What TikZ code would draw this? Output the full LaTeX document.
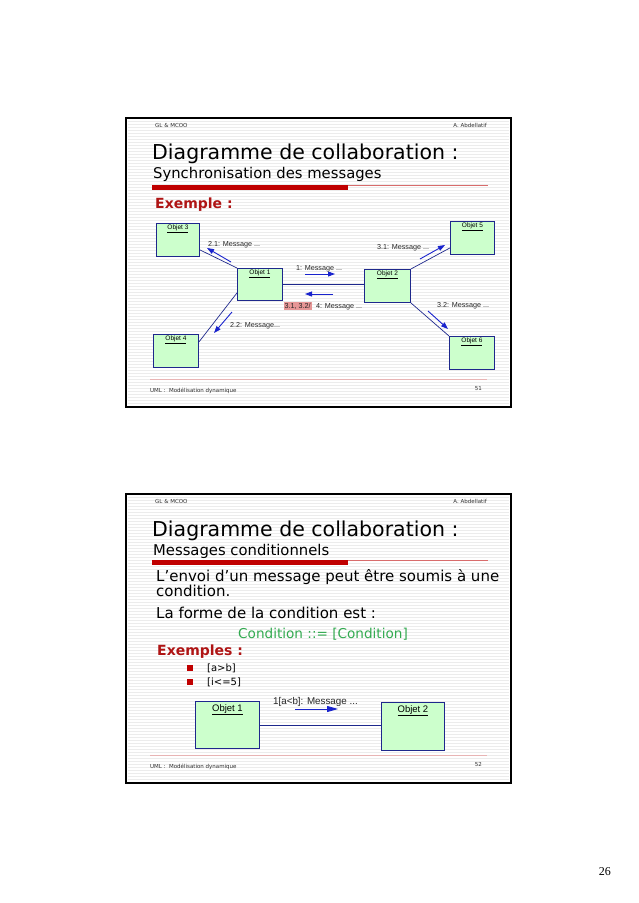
\documentclass[tikz,border=0pt]{standalone}
\usepackage{fontspec}
\setmainfont{DejaVu Sans}
\newfontfamily\arialfont{Liberation Sans}
\newfontfamily\timesfont{Liberation Serif}
\usetikzlibrary{arrows.meta,calc}

\definecolor{boxgreen}{RGB}{204,255,204}
\definecolor{linkblue}{RGB}{30,40,140}
\definecolor{msgblue}{RGB}{25,35,205}
\definecolor{barred}{RGB}{192,0,0}
\definecolor{darkred}{RGB}{175,20,20}
\definecolor{condgreen}{RGB}{50,170,80}
\definecolor{stripe}{RGB}{236,236,236}
\definecolor{footpink}{RGB}{232,180,180}
\definecolor{hilite}{RGB}{230,150,150}

\tikzset{
  objbox/.style={draw=linkblue, fill=boxgreen, line width=0.9pt, anchor=north west, inner sep=0pt},
  objlbl/.style={font=\arialfont\fontsize{6.5}{7}\selectfont, anchor=north, inner sep=2pt},
  biglbl/.style={font=\arialfont\fontsize{9.5}{11}\selectfont, anchor=north, inner sep=3pt},
  link/.style={draw=linkblue, line width=0.7pt},
  msg/.style={draw=msgblue, line width=0.9pt, -{Triangle[length=7pt,width=5pt]}},
  msglbl/.style={font=\arialfont\fontsize{7.2}{8}\selectfont, text=black!85, inner sep=0pt, anchor=base west},
  small/.style={font=\fontsize{5.5}{6}\selectfont, text=black!80, inner sep=0pt, anchor=base west},
  title/.style={font=\fontsize{20.5}{22}\selectfont, inner sep=0pt, anchor=base west},
  subtitle/.style={font=\fontsize{14.8}{16}\selectfont, inner sep=0pt, anchor=base west},
  body/.style={font=\fontsize{15}{16}\selectfont, inner sep=0pt, anchor=base west},
  head/.style={font=\bfseries\fontsize{14}{15}\selectfont, text=darkred, inner sep=0pt, anchor=base west},
}

\begin{document}
\begin{tikzpicture}[x=1pt,y=-1pt]
  \useasboundingbox (0,0) rectangle (638,903);
  \fill[white] (0,0) rectangle (638,903);

  % slide 51
  \foreach \y in {121,124,...,405} {
    \draw[stripe, line width=0.9pt] (128,\y) -- (509,\y);
  }
  \draw[line width=1.5pt] (126,118) rectangle (511,407);
  \node[small] (hdA) at (155,127) {GL \& MCOO};
  \node[small, anchor=base east] (auA) at (487,127) {A.\ Abdellatif};
  \node[title] (tiA) at (152,159) {Diagramme de collaboration :};
  \node[subtitle] (stA) at (153,178) {Synchronisation des messages};
  \draw[footpink!60!barred, line width=0.7pt] (152,185.5) -- (488,185.5);
  \fill[barred] (152,184.5) rectangle (348,189.5);
  \node[head] (exA) at (155,208) {Exemple :};

  \node[objbox, minimum width=43, minimum height=33] (o3) at (156,223) {};
  \node[objlbl] (o3l) at (o3.north) {\underline{Objet 3}};
  \node[objbox, minimum width=45, minimum height=32] (o1) at (237,268) {};
  \node[objlbl] (o1l) at (o1.north) {\underline{Objet 1}};
  \node[objbox, minimum width=46, minimum height=33] (o2) at (364,269) {};
  \node[objlbl] (o2l) at (o2.north) {\underline{Objet 2}};
  \node[objbox, minimum width=44, minimum height=33] (o5) at (450,221) {};
  \node[objlbl] (o5l) at (o5.north) {\underline{Objet 5}};
  \node[objbox, minimum width=45, minimum height=33] (o4) at (153,334) {};
  \node[objlbl] (o4l) at (o4.north) {\underline{Objet 4}};
  \node[objbox, minimum width=45, minimum height=33] (o6) at (449,336) {};
  \node[objlbl] (o6l) at (o6.north) {\underline{Objet 6}};

  \draw[link] (o1.east) -- (o1.east -| o2.west);
  \draw[link] (o1.north west) -- ($(o3.south east)+(0,-7)$);
  \draw[link] ($(o1.south west)+(0,-8)$) -- ($(o4.north east)+(0,8)$);
  \draw[link] (o2.north east) -- ($(o5.south west)+(0,-7)$);
  \draw[link] (o2.south east) -- (o6.north west);

  \coordinate (m1s) at (305,274);  \coordinate (m1e) at (335,274);
  \coordinate (m4s) at (333,294);  \coordinate (m4e) at (305,294);
  \coordinate (m21s) at (231,262); \coordinate (m21e) at (207,248);
  \coordinate (m31s) at (420,259); \coordinate (m31e) at (445,245);
  \coordinate (m22s) at (232,312); \coordinate (m22e) at (214,333);
  \coordinate (m32s) at (428,311); \coordinate (m32e) at (448,329);
  \foreach \m in {1,4,21,31,22,32} {
    \draw[msg] (m\m s) -- (m\m e);
  }
  \node[msglbl] (t1) at (296,270) {1: Message ...};
  \node[msglbl] (t21) at (208,246.5) {2.1: Message ...};
  \node[msglbl] (t31) at (377,249) {3.1: Message ...};
  \node[msglbl, fill=hilite, inner sep=1pt] (t4a) at (283.5,308) {3.1, 3.2/};
  \node[msglbl, anchor=base west] (t4) at (316,308) {4: Message ...};
  \node[msglbl] (t32) at (437,307) {3.2: Message ...};
  \node[msglbl] (t22) at (230,327) {2.2: Message...};

  \draw[footpink, line width=0.6pt] (150,379) -- (487,379);
  \node[small] (ftA) at (150,392) {UML :\ \ Modélisation dynamique};
  \node[small, anchor=base east] (pgA) at (482,390) {51};

  % slide 52
  \foreach \y in {497,500,...,781} {
    \draw[stripe, line width=0.9pt] (128,\y) -- (509,\y);
  }
  \draw[line width=1.5pt] (126,494) rectangle (511,783);
  \node[small] (hdB) at (155,503) {GL \& MCOO};
  \node[small, anchor=base east] (auB) at (487,503) {A.\ Abdellatif};
  \node[title] (tiB) at (152,536.5) {Diagramme de collaboration :};
  \node[subtitle] (stB) at (153,555) {Messages conditionnels};
  \draw[footpink!60!barred, line width=0.7pt] (152,560.5) -- (488,560.5);
  \fill[barred] (152,559.5) rectangle (348,564.5);
  \node[body] (b1) at (156,581.5) {L’envoi d’un message peut être soumis à une};
  \node[body] (b2) at (156,596.5) {condition.};
  \node[body] (b3) at (156,618) {La forme de la condition est :};
  \node[body, font=\fontsize{13.6}{15}\selectfont, text=condgreen] (b4) at (238,638) {Condition ::= [Condition]};
  \node[head] (exB) at (157,655.5) {Exemples :};
  \foreach \yb/\txt [count=\i] in {671.5/{[a>b]}, 685.5/{[i<=5]}} {
    \fill[barred] (187,\yb-6.5) rectangle (193,\yb-0.5);
    \node[font=\fontsize{10}{12}\selectfont, inner sep=0pt, anchor=base west] (ex\i) at (207,\yb) {\txt};
  }

  \node[objbox, minimum width=64, minimum height=47] (p1) at (195,701) {};
  \node[biglbl] (p1l) at (p1.north) {\underline{Objet 1}};
  \node[objbox, minimum width=63, minimum height=48] (p2) at (381,702) {};
  \node[biglbl] (p2l) at (p2.north) {\underline{Objet 2}};
  \draw[link] (p1.east) -- (p1.east -| p2.west);
  \coordinate (ms) at (295,709);
  \coordinate (me) at (338,709);
  \draw[msg, -{Triangle[length=11pt,width=6pt]}] (ms) -- (me);
  \node[msglbl, font=\arialfont\fontsize{9.8}{11}\selectfont] (tc) at (273,704) {1[a<b]: Message ...};

  \draw[footpink, line width=0.6pt] (150,755) -- (487,755);
  \node[small] (ftB) at (150,768) {UML :\ \ Modélisation dynamique};
  \node[small, anchor=base east] (pgB) at (482,766) {52};

  \node[font=\timesfont\fontsize{12}{14}\selectfont, inner sep=0pt, anchor=base east] (pg) at (611,875) {26};
\end{tikzpicture}
\end{document}
